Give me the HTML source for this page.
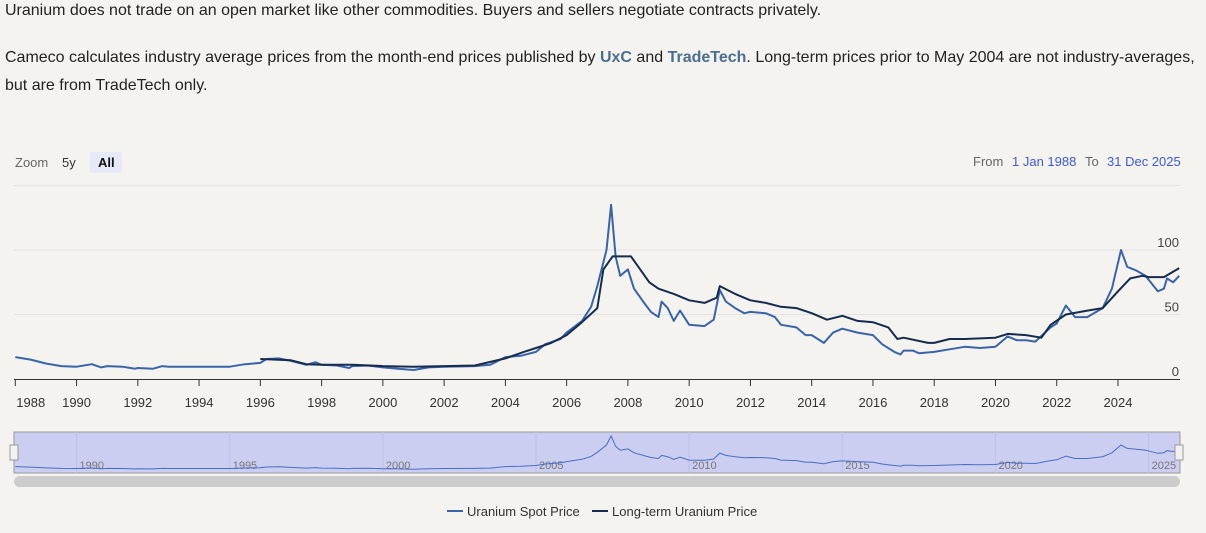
<!DOCTYPE html>
<html><head><meta charset="utf-8"><style>
body{margin:0;background:#f4f3ef;font-family:"Liberation Sans",sans-serif;color:#222;}
.p{position:absolute;left:5px;font-size:16px;margin:0;line-height:28px;width:1300px;white-space:nowrap}
a{color:#4a6f8f;font-weight:bold;text-decoration:none}
</style></head><body>
<div style="position:relative;width:1206px;height:533px;overflow:hidden">
<p class="p" style="top:-3px">Uranium does not trade on an open market like other commodities. Buyers and sellers negotiate contracts privately.</p>
<p class="p" style="top:44px">Cameco calculates industry average prices from the month-end prices published by <a>UxC</a> and <a>TradeTech</a>. Long-term prices prior to May 2004 are not industry-averages,<br>but are from TradeTech only.</p>
<svg id="c" width="1206" height="533" style="position:absolute;left:0;top:0" font-family="Liberation Sans, sans-serif">
<text x="15" y="167" font-size="13" fill="#666">Zoom</text>
<text x="62" y="167" font-size="13" fill="#333">5y</text>
<rect x="90" y="152" width="32" height="21" rx="2" fill="#e6e9f8"/>
<text x="98" y="167" font-size="13" font-weight="bold" fill="#111">All</text>
<text x="973" y="166" font-size="13" fill="#666">From</text>
<text x="1012" y="166" font-size="13" fill="#3b5bdb">1 Jan 1988</text>
<text x="1085" y="166" font-size="13" fill="#666">To</text>
<text x="1107" y="166" font-size="13" fill="#3b5bdb">31 Dec 2025</text>
<g id="grid"></g><g id="axes"></g><g id="series"></g><g id="nav"></g>
<g>
<line x1="447" y1="511" x2="463" y2="511" stroke="#3a64a8" stroke-width="2"/>
<text x="467" y="516" font-size="13" fill="#333">Uranium Spot Price</text>
<line x1="592" y1="511" x2="608" y2="511" stroke="#152c4e" stroke-width="2"/>
<text x="612" y="516" font-size="13" fill="#333">Long-term Uranium Price</text>
</g>
</svg>
</div>
<script>
const spotYears=[1988,1988.5,1989,1989.5,1990,1990.5,1990.8,1991,1991.5,1991.9,1992,1992.5,1992.8,1993,1994,1995,1995.5,1996,1996.2,1996.6,1997,1997.5,1997.8,1998,1998.5,1998.9,1999,1999.5,2000,2000.5,2001,2001.5,2002,2003,2003.5,2004,2004.5,2005,2005.3,2005.8,2006,2006.5,2006.8,2007,2007.3,2007.45,2007.6,2007.75,2008,2008.2,2008.5,2008.75,2009,2009.1,2009.3,2009.5,2009.7,2010,2010.5,2010.8,2011,2011.2,2011.5,2011.8,2012,2012.5,2012.8,2013,2013.5,2013.8,2014,2014.4,2014.7,2015,2015.5,2016,2016.3,2016.7,2016.9,2017,2017.3,2017.5,2018,2018.5,2019,2019.5,2020,2020.4,2020.7,2021,2021.3,2021.8,2022,2022.3,2022.6,2023,2023.5,2023.8,2024.1,2024.3,2024.6,2024.9,2025.3,2025.5,2025.6,2025.8,2026];
const spotValues=[17,15,12,10,9.5,11.5,9,10,9.5,8,8.5,8,10,9.5,9.5,9.5,11.5,12.5,15.5,16,14,11,13,11,10.5,8.5,10,10.5,9,8,7,9,9.5,10,11,17,18,21,27,31,36,45,56,72,100,135,95,80,85,70,60,52,48,60,55,45,53,42,41,46,69,60,55,51,52,51,48,42,40,34,34,28,36,39,36,34,27,21,19,22,22,20,21,23,25,24,25,33,30,30,29,40,43,57,48,48,55,70,100,87,84,80,68,70,78,75,80];
const ltYears=[1996,1997,1997.5,1998,1999,2000,2001,2002,2003,2004,2004.6,2005,2005.5,2006,2006.5,2007,2007.2,2007.5,2008.1,2008.4,2008.7,2009,2009.5,2010,2010.5,2010.9,2011,2011.5,2012,2012.5,2013,2013.5,2014,2014.5,2015,2015.5,2016,2016.5,2016.8,2017,2017.8,2018,2018.5,2019,2020,2020.4,2021,2021.5,2021.8,2022.3,2023,2023.5,2024,2024.4,2024.8,2025,2025.5,2026];
const ltValues=[15.5,14.5,11.5,11,11,10,9.5,10,10.5,16,21,24,28,34,44,55,85,95,95,85,75,70,66,61,59,63,72,66,61,59,56,55,51,46,49,45,44,40,31,32,28,28,31,31,32,35,34,32,42,50,53,55,68,78,80,79,79,86];
const xTicks=[1988,1990,1992,1994,1996,1998,2000,2002,2004,2006,2008,2010,2012,2014,2016,2018,2020,2022,2024];
const yTicks=[0,50,100,150];
const navLabels=[1990,1995,2000,2005,2010,2015,2020,2025];
const NS='http://www.w3.org/2000/svg';
const X=y=>15.3+(y-1988)*30.63, Y=v=>379-v*1.29, NY=v=>471-v*0.26;
function mk(t,a,p){const e=document.createElementNS(NS,t);for(const k in a)e.setAttribute(k,a[k]);p.appendChild(e);return e;}
const grid=document.getElementById('grid'),axes=document.getElementById('axes'),ser=document.getElementById('series'),nav=document.getElementById('nav');
yTicks.forEach(v=>{if(v>0){const l=mk('line',{x1:14,x2:1180,y1:Y(v),y2:Y(v),stroke:'#e3e3e3'},grid);
}
if(v<150){const t=mk('text',{x:1179,y:Y(v)-3,'text-anchor':'end','font-size':13,fill:'#444'},axes);t.textContent=v;
}});
const ax=mk('line',{x1:14,x2:1180,y1:379.5,y2:379.5,stroke:'#333'},axes);

xTicks.forEach((yr,i)=>{mk('line',{x1:X(yr),x2:X(yr),y1:379,y2:386,stroke:'#333'},axes);
const t=mk('text',{x:i==0?X(yr)+1:X(yr),y:407,'text-anchor':i==0?'start':'middle','font-size':13,fill:'#333'},axes);t.textContent=yr;
});
function path(xs,vs,fy){return xs.map((x,i)=>(i?'L':'M')+X(x).toFixed(1)+','+fy(vs[i]).toFixed(1)).join('');}
const sp=mk('path',{d:path(spotYears,spotValues,Y),fill:'none',stroke:'#3a64a8','stroke-width':2,'stroke-linejoin':'round'},ser);

const lt=mk('path',{d:path(ltYears,ltValues,Y),fill:'none',stroke:'#152c4e','stroke-width':2,'stroke-linejoin':'round'},ser);

const nb=mk('rect',{x:14,y:432,width:1166,height:41,fill:'#cbcdf1',stroke:'#999'},nav);

navLabels.forEach(yr=>{mk('line',{x1:X(yr),x2:X(yr),y1:432,y2:473,stroke:'#bfc2e6'},nav);
const t=mk('text',{x:X(yr)+3,y:469,'font-size':11,fill:'#777'},nav);t.textContent=yr;
});
const np=mk('path',{d:path(spotYears,spotValues,NY),fill:'none',stroke:'#4a6fc0','stroke-width':1},nav);

[14,1179].forEach((x,i)=>{const h=mk('rect',{x:x-4,y:445,width:8,height:15,fill:'#f2f2f2',stroke:'#999'},nav);
});
const sb=mk('rect',{x:14,y:476,width:1166,height:11,rx:5.5,fill:'#cccccc'},nav);

</script>
</body></html>
